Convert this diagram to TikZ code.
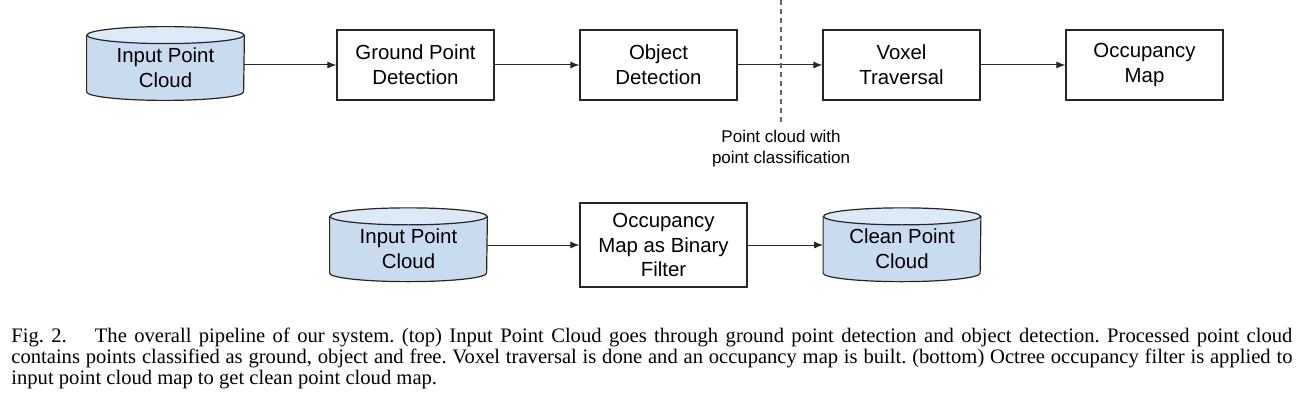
\documentclass[tikz,border=0pt]{standalone}
\usepackage{fontspec}
\setmainfont{Liberation Serif}
\newfontfamily\diafont{Liberation Sans}
\usetikzlibrary{arrows.meta}
\usetikzlibrary{backgrounds}
\definecolor{storeside}{HTML}{C9DCEF}
\definecolor{storelid}{HTML}{DCE9F6}
\definecolor{inkline}{HTML}{262626}
\tikzstyle{line} = [draw, -{Latex[length=4.5pt, width=3.5pt]}, line width=0.5pt, inkline]
\tikzstyle{block} = [draw=inkline, line width=0.6pt, rectangle,
minimum width=78.5pt, minimum height=35pt, align=center, inner sep=2pt]
\tikzstyle{store} = [rectangle, minimum width=78.5pt, minimum height=23.75pt,
inner sep=0pt, align=center]
\newcommand{\drawstore}[1]{%
  \fill[storeside] ([yshift=4.25pt]#1.north west) -- (#1.south west)
    arc[start angle=180, end angle=360, x radius=39.25pt, y radius=4.25pt]
    -- ([yshift=4.25pt]#1.north east) -- cycle;
  \draw[inkline, line width=0.6pt] ([yshift=4.25pt]#1.north west) -- (#1.south west)
    arc[start angle=180, end angle=360, x radius=39.25pt, y radius=4.25pt]
    -- ([yshift=4.25pt]#1.north east);
  \draw[inkline, line width=0.6pt, fill=storelid] ([yshift=4.25pt]#1.north)
    ellipse [x radius=39.25pt, y radius=4.25pt];
}
\begin{document}
\begin{tikzpicture}[x=0.5pt, y=-0.5pt,
        font=\diafont\fontsize{10.2}{12.4}\selectfont,
        note/.style={font=\diafont\fontsize{8.5}{10.5}\selectfont,
            align=center, inner sep=0pt},
        cut/.style={draw=black!60, dash pattern=on 2.5pt off 2pt, line width=0.6pt},
        caption/.style={font=\fontsize{10.3}{10.5}\selectfont\frenchspacing,
            text width=640.5pt, align=justify, inner sep=0pt, anchor=north west}]
        \useasboundingbox (0,0) rectangle (1309,401);
        %% Vertices (top)
        \node [store] at (165.5,67.75) (IPC) {Input Point\\Cloud};
        \node [block] at (415.5,65) (GPD) {Ground Point\\Detection};
        \node [block] at (658.5,65) (OD) {Object\\Detection};
        \node [block] at (901.5,65) (VT) {Voxel\\Traversal};
        \node [block] at (1144.5,65) (OM) {Occupancy\\Map};
        %% Vertices (bottom)
        \node [store] at (408.5,249) (IPCb) {Input Point\\Cloud};
        \node [block, minimum width=83.5pt, minimum height=42pt] at (663.5,245) (BF)
            {Occupancy\\Map as Binary\\Filter};
        \node [store] at (902,249) (CPC) {Clean Point\\Cloud};
        \begin{scope}[on background layer]
            \drawstore{IPC}
            \drawstore{IPCb}
            \drawstore{CPC}
        \end{scope}
        %% Arcs
        \path [line] (IPC.east |- GPD.west) to (GPD.west);
        \path [line] (GPD) to (OD);
        \path [line] (OD) to (VT);
        \path [line] (VT) to (OM);
        \path [line] (IPCb.east |- BF.west) to (BF.west);
        \path [line] (BF.east) to (BF.east -| CPC.west);
        %% Split
        \coordinate (cuttop) at (781,0);
        \coordinate (cutend) at (781,123);
        \draw [cut] (cuttop) -- (cutend);
        \node [note] at (781,148.5) (PC) {Point cloud with\\point classification};
        %% Caption
        \node [caption] at (11,328) (cap) {Fig.~2.\hspace{14pt}The overall pipeline
            of our system. (top) Input Point Cloud goes through ground point detection
            and object detection. Processed point cloud\linebreak contains points
            classified as ground, object and free. Voxel traversal is done and an
            occupancy map is built. (bottom) Octree occupancy filter is applied
            to\linebreak input point cloud map to get clean point cloud map.};
    \end{tikzpicture}
\end{document}
